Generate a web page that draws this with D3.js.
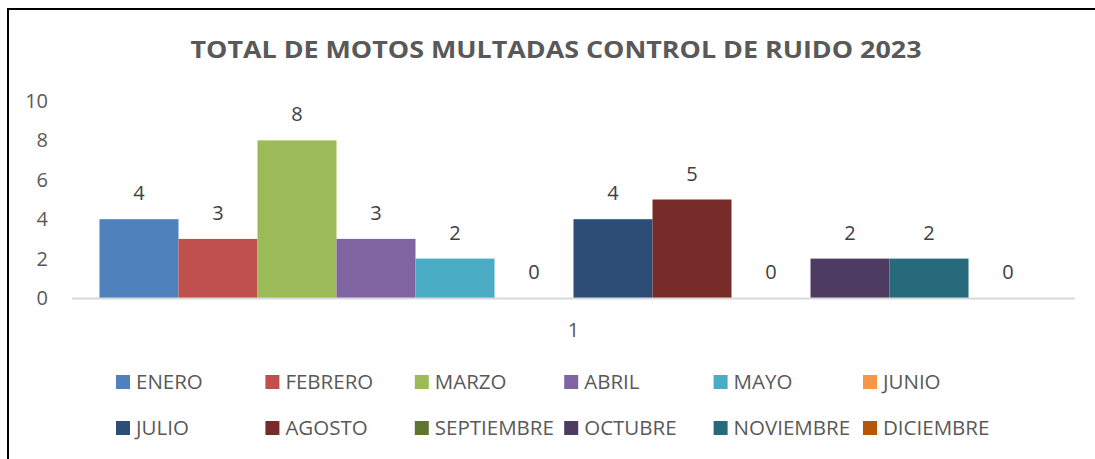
<!DOCTYPE html>
<html>
<head>
<meta charset="utf-8">
<script src="https://cdn.jsdelivr.net/npm/d3@7"></script>
<style>
  body { margin: 0; background: #fff; }
  svg { display: block; font-family: "Open Sans", "Liberation Sans", sans-serif; }
</style>
</head>
<body>
<svg id="chart" width="1095" height="459"></svg>
<script>
// data
var months = ['ENERO', 'FEBRERO', 'MARZO', 'ABRIL', 'MAYO', 'JUNIO',
  'JULIO', 'AGOSTO', 'SEPTIEMBRE', 'OCTUBRE', 'NOVIEMBRE', 'DICIEMBRE'];
var values = [4, 3, 8, 3, 2, 0, 4, 5, 0, 2, 2, 0];
var colors = ['#4f81bd', '#c0504d', '#9bbb59', '#8064a2', '#4bacc6', '#f79646',
  '#2c4d75', '#772c2a', '#5f7530', '#4d3b62', '#276a7c', '#b65708'];
var categories = ['1'];
var yTicks = [0, 2, 4, 6, 8, 10];
var title = 'TOTAL DE MOTOS MULTADAS CONTROL DE RUIDO 2023';

var svg = d3.select('#chart');

// frame: top and left edges only
svg.append('line')
  .attr('x1', 8).attr('x2', 1095).attr('y1', 9).attr('y2', 9)
  .attr('stroke', '#000').attr('stroke-width', 2);
svg.append('line')
  .attr('x1', 8).attr('x2', 8).attr('y1', 8).attr('y2', 459)
  .attr('stroke', '#000').attr('stroke-width', 2);

// title
svg.append('text')
  .attr('x', 556).attr('y', 58)
  .attr('text-anchor', 'middle')
  .attr('font-size', 23)
  .attr('font-weight', 'bold')
  .attr('fill', '#595959')
  .attr('textLength', 731)
  .attr('lengthAdjust', 'spacingAndGlyphs')
  .text(title);

// scales
var x0 = d3.scaleBand()
  .domain(categories)
  .range([72, 1075])
  .paddingInner(0)
  .paddingOuter(0.029);

var x1 = d3.scaleBand()
  .domain(months)
  .range([0, x0.bandwidth()]);

var y = d3.scaleLinear()
  .domain([0, 10])
  .range([298, 101]);

// y axis labels
svg.append('g')
  .selectAll('text')
  .data(yTicks)
  .enter()
  .append('text')
  .attr('x', 48)
  .attr('y', function (d) { return y(d); })
  .attr('dy', '0.35em')
  .attr('text-anchor', 'end')
  .attr('font-size', 20)
  .attr('fill', '#595959')
  .text(function (d) { return d; });

// bars
var group = svg.append('g')
  .attr('transform', 'translate(' + x0(categories[0]) + ',0)');

var bars = months.map(function (m, i) {
  return { month: m, value: values[i], color: colors[i] };
});

group.selectAll('rect')
  .data(bars)
  .enter()
  .append('rect')
  .attr('x', function (d) { return x1(d.month); })
  .attr('width', x1.bandwidth())
  .attr('y', function (d) { return y(d.value); })
  .attr('height', function (d) { return y(0) - y(d.value); })
  .attr('fill', function (d) { return d.color; });

// data labels
group.selectAll('text')
  .data(bars)
  .enter()
  .append('text')
  .attr('x', function (d) { return x1(d.month) + x1.bandwidth() / 2; })
  .attr('y', function (d) { return y(d.value) - 19; })
  .attr('text-anchor', 'middle')
  .attr('font-size', 20)
  .attr('fill', '#404040')
  .text(function (d) { return d.value; });

// x axis line
svg.append('line')
  .attr('x1', 72).attr('x2', 1075)
  .attr('y1', y(0) + 0.5).attr('y2', y(0) + 0.5)
  .attr('stroke', '#d9d9d9').attr('stroke-width', 2);

// category label
svg.append('g')
  .selectAll('text')
  .data(categories)
  .enter()
  .append('text')
  .attr('x', function (d) { return x0(d) + x0.bandwidth() / 2; })
  .attr('y', 337)
  .attr('text-anchor', 'middle')
  .attr('font-size', 20)
  .attr('fill', '#595959')
  .text(function (d) { return d; });

// legend
var legend = svg.append('g')
  .selectAll('g')
  .data(bars)
  .enter()
  .append('g')
  .attr('transform', function (d, i) {
    var col = i % 6, row = Math.floor(i / 6);
    return 'translate(' + (116 + col * 149.4) + ',' + (382 + row * 46) + ')';
  });

legend.append('rect')
  .attr('x', 0).attr('y', -7)
  .attr('width', 14).attr('height', 14)
  .attr('fill', function (d) { return d.color; });

legend.append('text')
  .attr('x', 20).attr('y', 0)
  .attr('dy', '0.35em')
  .attr('font-size', 20.5)
  .attr('fill', '#595959')
  .text(function (d) { return d.month; });
</script>
</body>
</html>
